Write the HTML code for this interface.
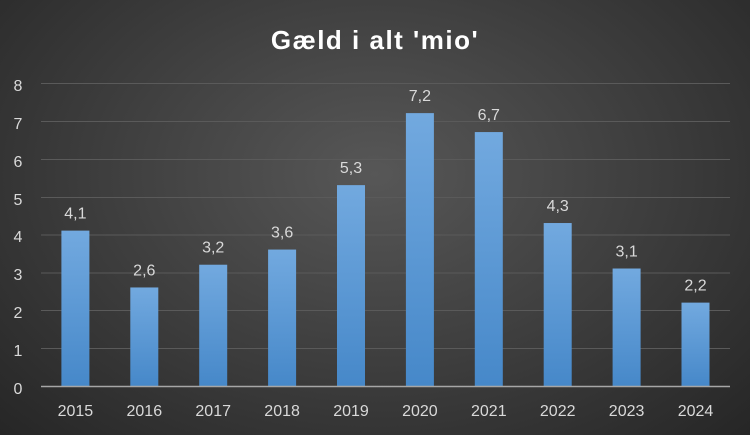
<!DOCTYPE html>
<html><head><meta charset="utf-8"><style>
html,body{margin:0;padding:0;width:750px;height:435px;overflow:hidden}
body{background:radial-gradient(ellipse at 50% 40%,#575757 0%,#3c3c3c 55%,#262626 100%);font-family:"Liberation Sans",sans-serif}
</style></head><body>
<svg width="750" height="435" xmlns="http://www.w3.org/2000/svg" style="position:absolute;left:0;top:0">
<defs><linearGradient id="g" x1="0" y1="0" x2="0" y2="1"><stop offset="0" stop-color="#72a9df"/><stop offset="1" stop-color="#4688c9"/></linearGradient></defs>
<text x="375" y="49" text-anchor="middle" fill="#fff" font-size="26" font-weight="bold" letter-spacing="1.5">Gæld i alt 'mio'</text>
<g stroke="#5a5a5a" stroke-width="1">
<line x1="41" x2="730" y1="83.5" y2="83.5"/><line x1="41" x2="730" y1="121.5" y2="121.5"/><line x1="41" x2="730" y1="159.5" y2="159.5"/><line x1="41" x2="730" y1="197.5" y2="197.5"/><line x1="41" x2="730" y1="235" y2="235"/><line x1="41" x2="730" y1="273" y2="273"/><line x1="41" x2="730" y1="310.5" y2="310.5"/><line x1="41" x2="730" y1="348.5" y2="348.5"/>
</g>
<g fill="#d9d9d9" font-size="16" text-anchor="middle">
<text x="18" y="91">8</text><text x="18" y="129">7</text><text x="18" y="167">6</text><text x="18" y="205">5</text><text x="18" y="242">4</text><text x="18" y="280">3</text><text x="18" y="318">2</text><text x="18" y="356">1</text><text x="18" y="394">0</text>
</g>
<g id="bars" fill="url(#g)"></g>
<line x1="41" x2="730" y1="386.5" y2="386.5" stroke="#a6a6a6" stroke-width="1.5"/>
<g id="labels" fill="#d9d9d9" font-size="16" text-anchor="middle"></g>
<script>
var d=[4.1,2.6,3.2,3.6,5.3,7.2,6.7,4.3,3.1,2.2],b=document.getElementById('bars'),l=document.getElementById('labels'),ns="http://www.w3.org/2000/svg";
d.forEach(function(v,i){var cx=75.4+i*68.9,h=v*37.9,y=386-h;
var r=document.createElementNS(ns,'rect');r.setAttribute('x',cx-14);r.setAttribute('width',28);r.setAttribute('y',y);r.setAttribute('height',h);b.appendChild(r);
var t=document.createElementNS(ns,'text');t.setAttribute('x',cx);t.setAttribute('y',y-12);t.textContent=String(v).replace('.',',');l.appendChild(t);
var t2=document.createElementNS(ns,'text');t2.setAttribute('x',cx);t2.setAttribute('y',416);t2.textContent=2015+i;l.appendChild(t2);});
</script>
</svg>
</body></html>
